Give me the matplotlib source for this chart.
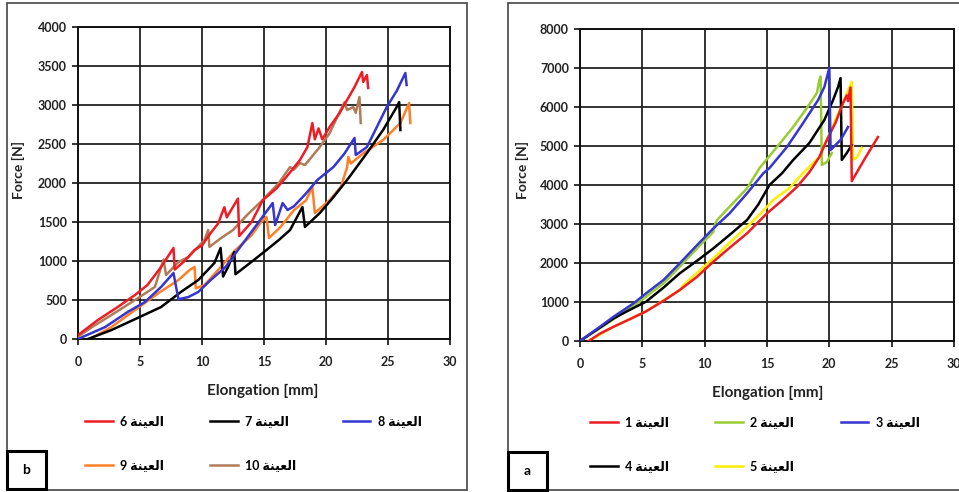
import matplotlib
matplotlib.use("Agg")
import matplotlib.pyplot as plt
from matplotlib.patches import Rectangle

plt.rcParams['font.family'] = ['Lato', 'DejaVu Sans']

# "العينة" in presentation forms, visual order (matplotlib does no arabic shaping)
AR = '\uFE94\uFEE8\uFEF4\uFECC\uFEDF\uFE8D'

# ---------------- panel b : samples 6..10 ----------------
x6 = [0, 1.6, 3.2, 4.6, 5.6, 6.7, 7.7, 7.8, 8.6, 9.4, 10.0, 10.7, 11.3, 11.8, 12.0, 12.9, 13.0, 14.0, 14.9, 16.0, 16.8,
      17.9, 18.5, 18.9, 19.1, 19.4, 19.7, 20.3, 21.1, 21.7, 22.3, 22.9, 23.0, 23.3, 23.4]
f6 = [50, 243, 410, 564, 692, 923, 1167, 890, 1000, 1141, 1200, 1359, 1480, 1690, 1560, 1800, 1320, 1500, 1780, 1930, 2077,
      2295, 2461, 2769, 2560, 2700, 2560, 2720, 2897, 3064, 3230, 3423, 3295, 3384, 3218]

x7 = [0.8, 2.7, 4.8, 6.7, 8.3, 9.7, 11.0, 11.5, 11.7, 12.1, 12.6, 12.7, 14.0, 15.2, 16.2, 17.1, 18.1, 18.3, 19.5, 20.5,
      21.7, 23.3, 24.6, 25.7, 25.9, 26.0]
f7 = [0, 115, 269, 410, 603, 756, 974, 1167, 800, 923, 1115, 830, 990, 1141, 1270, 1397, 1692, 1436, 1615, 1800,
      2038, 2384, 2679, 2974, 3038, 2679]

x8 = [0, 2.2, 4.0, 5.4, 6.7, 7.7, 8.1, 8.9, 9.7, 10.7, 11.9, 12.9, 14.1, 15.7, 15.9, 16.5, 16.9, 17.4, 18.3, 19.3,
      20.6, 21.5, 22.3, 22.4, 23.3, 24.9, 25.7, 26.4, 26.5]
f8 = [0, 154, 346, 474, 667, 846, 510, 538, 603, 756, 923, 1141, 1397, 1743, 1461, 1743, 1654, 1700, 1850, 2038,
      2205, 2380, 2577, 2359, 2461, 2974, 3180, 3410, 3256]

x9 = [1.0, 2.7, 4.6, 6.5, 8.1, 9.0, 9.4, 9.5, 10.2, 11.3, 12.7, 14.0, 14.7, 15.2, 15.4, 16.3, 17.4, 18.4, 18.9,
      19.1, 20.3, 21.2, 21.7, 21.8, 22.0, 23.0, 24.6, 26.0, 26.7, 26.8]
f9 = [0, 154, 372, 590, 756, 885, 923, 650, 692, 885, 1141, 1330, 1487, 1564, 1295, 1430, 1650, 1780, 1949,
      1615, 1782, 1950, 2200, 2333, 2250, 2380, 2551, 2769, 3025, 2769]

x10 = [0, 1.2, 2.7, 4.6, 6.2, 6.9, 7.1, 8.1, 8.9, 10.2, 10.5, 10.6, 11.5, 12.5, 13.7, 14.9, 16.2, 17.1, 17.4, 17.9,
       18.3, 19.5, 20.3, 20.9, 21.5, 21.7, 22.2, 22.4, 22.7, 22.8]
f10 = [30, 160, 308, 500, 667, 1020, 820, 987, 1051, 1269, 1397, 1180, 1290, 1397, 1600, 1782, 2000, 2205, 2170, 2256,
       2230, 2461, 2641, 2846, 3038, 2936, 2974, 2900, 3102, 2769]

# ---------------- panel a : samples 1..5 ----------------
x1 = [0.7, 1.6, 2.7, 4.0, 5.3, 6.7, 8.0, 9.4, 10.7, 12.0, 13.4, 15.0, 16.2, 17.4, 18.4, 19.2, 19.8, 20.5, 21.1,
      21.4, 21.5, 21.7, 21.8, 22.8, 23.9]
f1 = [0, 190, 366, 560, 760, 1030, 1307, 1650, 2034, 2390, 2760, 3274, 3600, 3949, 4330, 4718, 5154, 5600, 6102,
      6300, 6150, 6500, 4100, 4650, 5230]

x2 = [0, 1.6, 2.7, 4.3, 5.3, 6.7, 8.0, 9.4, 10.7, 10.8, 11.0, 12.0, 13.4, 14.4, 15.8, 17.1, 18.2, 19.0, 19.2,
      19.3, 19.4, 19.8, 20.2]
f2 = [0, 330, 560, 900, 1137, 1480, 1906, 2380, 2800, 2976, 3103, 3444, 3914, 4436, 4974, 5487, 5974, 6359, 6692,
      6780, 4513, 4590, 4820]

x3 = [0, 1.6, 2.7, 4.3, 5.3, 6.7, 8.0, 9.4, 10.7, 12.0, 13.4, 14.7, 15.2, 16.6, 17.9, 19.1, 19.6, 20.0, 20.1,
      20.9, 21.5]
f3 = [0, 366, 624, 966, 1222, 1564, 1991, 2462, 2888, 3274, 3786, 4298, 4436, 4974, 5590, 6179, 6513, 7000, 4897,
      5154, 5487]

x4 = [0, 1.4, 2.7, 4.0, 5.3, 6.7, 8.0, 9.4, 10.7, 12.0, 13.4, 14.3, 15.2, 16.2, 17.1, 18.4, 19.6, 20.3, 20.7,
      20.9, 21.0, 21.4, 21.8]
f4 = [0, 300, 581, 800, 1009, 1370, 1735, 2060, 2376, 2720, 3103, 3500, 4000, 4300, 4641, 5077, 5667, 6179, 6513,
      6743, 4641, 4820, 5025]

x5 = [0.7, 2.7, 5.3, 8.0, 8.3, 9.5, 10.7, 12.0, 13.4, 14.5, 15.5, 16.8, 17.9, 19.2, 21.1, 21.8, 21.9, 22.2, 22.6]
f5 = [0, 366, 760, 1307, 1436, 1780, 2120, 2520, 2932, 3270, 3615, 3923, 4307, 4720, 6110, 6650, 4650, 4700, 4950]

W, H = 959, 492
fig = plt.figure(figsize=(W / 100, H / 100), dpi=100)


def px_rect(x0, y0, x1, y1):
    return [x0 / W, 1 - y1 / H, (x1 - x0) / W, (y1 - y0) / H]


def setup(ax, ymax, ystep):
    ax.set_xlim(0, 30)
    ax.set_ylim(0, ymax)
    ax.set_xticks(range(0, 31, 5))
    ax.set_yticks(range(0, ymax + 1, ystep))
    ax.grid(True, color='#222222', lw=1.3)
    ax.set_axisbelow(True)
    for s in ax.spines.values():
        s.set_color('#111111')
        s.set_linewidth(1.4)
    ax.tick_params(direction='out', length=4, width=1.2, color='#111111', labelsize=9)
    ax.tick_params(axis='x', pad=8)
    ax.tick_params(axis='y', pad=4)
    for lab in ax.get_xticklabels() + ax.get_yticklabels():
        lab.set_fontweight('bold')
        lab.set_color('#222222')


def legend(ax, handles, x_left, y_top):
    order = [0, 3, 1, 4, 2]
    hs = [handles[i] for i in order]
    ax.legend(hs, [h.get_label() for h in hs], ncol=3, loc='upper left',
              bbox_to_anchor=(x_left / W, 1 - y_top / H), bbox_transform=fig.transFigure,
              frameon=False, borderpad=0, borderaxespad=0, handlelength=2.2,
              handletextpad=0.6, columnspacing=3.7, labelspacing=2.6,
              prop={'size': 9, 'weight': 'bold'})


def frame(x0, y0, x1, y1):
    fig.patches.append(Rectangle((x0 / W, 1 - y1 / H), (x1 - x0) / W, (y1 - y0) / H,
                                 transform=fig.transFigure, fill=False, ec='#444444', lw=1.2))


def tag(x0, y0, x1, y1, letter):
    fig.patches.append(Rectangle((x0 / W, 1 - y1 / H), (x1 - x0) / W, (y1 - y0) / H,
                                 transform=fig.transFigure, fill=False, ec='black', lw=2.2))
    fig.text((x0 + x1) / 2 / W, 1 - (y0 + y1) / 2 / H, letter, ha='center', va='center',
             fontsize=10, fontweight='bold')


lw = 1.8

# ---- left panel (b)
frame(7, 3, 467, 490)
axb = fig.add_axes(px_rect(78, 27, 450, 339))
setup(axb, 4000, 500)
hb = [
    axb.plot(x6, f6, color='#ee1c25', lw=lw, label='6 ' + AR, zorder=6)[0],
    axb.plot(x7, f7, color='black', lw=lw, label='7 ' + AR, zorder=3)[0],
    axb.plot(x8, f8, color='#3535d0', lw=lw, label='8 ' + AR, zorder=4)[0],
    axb.plot(x9, f9, color='#ff7f27', lw=lw, label='9 ' + AR, zorder=2)[0],
    axb.plot(x10, f10, color='#b27b58', lw=lw, label='10 ' + AR, zorder=5)[0],
]
legend(axb, hb, 85, 415)
fig.text(263 / W, 1 - 391 / H, 'Elongation [mm]', ha='center', va='center', fontsize=11, fontweight='bold',
         color='#222222')
fig.text(18 / W, 1 - 170 / H, 'Force [N]', ha='center', va='center', rotation=90, fontsize=10,
         fontweight='bold', color='#222222')
tag(7, 451, 46, 489, 'b')

# ---- right panel (a)
frame(508, 3, 975, 490)
axa = fig.add_axes(px_rect(580, 29, 954, 341))
setup(axa, 8000, 1000)
h5 = axa.plot(x5, f5, color='#ffee00', lw=lw, label='5 ' + AR, zorder=2)[0]
ha = [
    axa.plot(x1, f1, color='#ee1c25', lw=lw, label='1 ' + AR, zorder=4)[0],
    axa.plot(x2, f2, color='#99cc33', lw=lw, label='2 ' + AR, zorder=3)[0],
    axa.plot(x3, f3, color='#3535d0', lw=lw, label='3 ' + AR, zorder=5)[0],
    axa.plot(x4, f4, color='black', lw=lw, label='4 ' + AR, zorder=3)[0],
    h5,
]
legend(axa, ha, 590, 416)
fig.text(768 / W, 1 - 393 / H, 'Elongation [mm]', ha='center', va='center', fontsize=11, fontweight='bold',
         color='#222222')
fig.text(522 / W, 1 - 170 / H, 'Force [N]', ha='center', va='center', rotation=90, fontsize=10,
         fontweight='bold', color='#222222')
tag(508, 452, 547, 490, 'a')

fig.savefig('out.png', dpi=100)
